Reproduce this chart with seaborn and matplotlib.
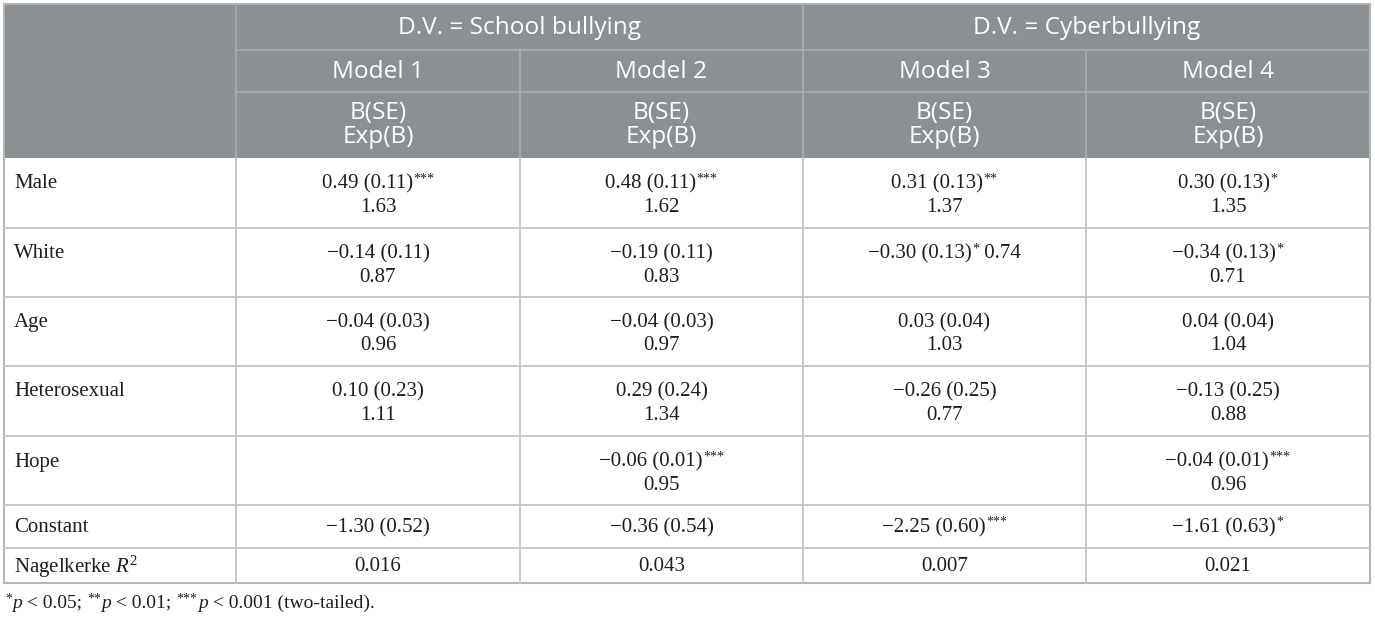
import matplotlib
matplotlib.use("Agg")
import matplotlib.pyplot as plt
import seaborn as sns
from matplotlib.patches import Rectangle

# data
row_labels = ["Male", "White", "Age", "Heterosexual", "Hope", "Constant"]
groups = ["D.V. = School bullying", "D.V. = Cyberbullying"]
models = ["Model 1", "Model 2", "Model 3", "Model 4"]

b_m1 = [0.49, -0.14, -0.04, 0.10, None, -1.30]
se_m1 = [0.11, 0.11, 0.03, 0.23, None, 0.52]
st_m1 = ["***", "", "", "", "", ""]
exp_m1 = [1.63, 0.87, 0.96, 1.11, None, None]

b_m2 = [0.48, -0.19, -0.04, 0.29, -0.06, -0.36]
se_m2 = [0.11, 0.11, 0.03, 0.24, 0.01, 0.54]
st_m2 = ["***", "", "", "", "***", ""]
exp_m2 = [1.62, 0.83, 0.97, 1.34, 0.95, None]

b_m3 = [0.31, -0.30, 0.03, -0.26, None, -2.25]
se_m3 = [0.13, 0.13, 0.04, 0.25, None, 0.60]
st_m3 = ["**", "*", "", "", "", "***"]
exp_m3 = [1.37, 0.74, 1.03, 0.77, None, None]

b_m4 = [0.30, -0.34, 0.04, -0.13, -0.04, -1.61]
se_m4 = [0.13, 0.13, 0.04, 0.25, 0.01, 0.63]
st_m4 = ["*", "*", "", "", "***", "*"]
exp_m4 = [1.35, 0.71, 1.04, 0.88, 0.96, None]

r2 = [0.016, 0.043, 0.007, 0.021]

# in the source table, Model 3 / White has Exp(B) on the same line
inline_cells = [(1, 2)]

B = [b_m1, b_m2, b_m3, b_m4]
SE = [se_m1, se_m2, se_m3, se_m4]
ST = [st_m1, st_m2, st_m3, st_m4]
EXP = [exp_m1, exp_m2, exp_m3, exp_m4]

sns.set_theme(style="white")
plt.rcParams["mathtext.fontset"] = "custom"
plt.rcParams["mathtext.rm"] = "Liberation Serif"
plt.rcParams["mathtext.it"] = "Liberation Serif:italic"

HEAD_BG = "#8b9093"
HEAD_LINE = "#a8acae"
GRID = "#c4c4c4"
TXT = "#1e1e1e"
SERIF = "Liberation Serif"
SANS = "Open Sans"
FS = 15
HFS = 17.6


def num(v):
    return f"{v:.2f}".replace("-", "\u2212")


fig = plt.figure(figsize=(13.75, 6.17), dpi=100)
ax = fig.add_axes([0, 0, 1, 1])
ax.set_xlim(0, 1375)
ax.set_ylim(617, 0)
ax.axis("off")
renderer = fig.canvas.get_renderer()


def text_width(s, size, **kw):
    probe = ax.text(0, 0, s, fontsize=size, family=SERIF, **kw)
    w = probe.get_window_extent(renderer=renderer).width
    probe.remove()
    return w


def centered_with_stars(xc, y, s, stars, tail=""):
    # measure the pieces so the whole string stays centred in its cell
    w = text_width(s, FS)
    sw = text_width(stars, 10) + 0.5 if stars else 0
    tw = text_width(tail, FS) if tail else 0
    x0 = xc - (w + sw + tw) / 2
    ax.text(x0, y, s, ha="left", va="center", color=TXT, fontsize=FS, family=SERIF)
    xe = x0 + w
    if stars:
        ax.text(xe + 0.5, y - 5, stars, ha="left", va="center", color=TXT,
                fontsize=10, family=SERIF)
        xe += sw
    if tail:
        ax.text(xe, y, tail, ha="left", va="center", color=TXT, fontsize=FS, family=SERIF)


cols = [4, 236, 520, 803, 1086, 1370]
head = [4, 50, 92, 158]
rows = [158, 228, 297, 366, 436, 505, 548, 583]

# header block
ax.add_patch(Rectangle((cols[0], head[0]), cols[-1] - cols[0], head[-1] - head[0],
                       facecolor=HEAD_BG, edgecolor="none"))
ax.plot([cols[1], cols[-1]], [head[1], head[1]], color=HEAD_LINE, lw=1.2)
ax.plot([cols[1], cols[-1]], [head[2], head[2]], color=HEAD_LINE, lw=1.2)
ax.plot([cols[1], cols[1]], [head[0], head[3]], color=HEAD_LINE, lw=1.2)
ax.plot([cols[3], cols[3]], [head[0], head[3]], color=HEAD_LINE, lw=1.2)
for c in (cols[2], cols[4]):
    ax.plot([c, c], [head[1], head[3]], color=HEAD_LINE, lw=1.2)

for g, (x0, x1) in enumerate([(cols[1], cols[3]), (cols[3], cols[5])]):
    ax.text((x0 + x1) / 2, (head[0] + head[1]) / 2 + 1, groups[g], ha="center", va="center",
            color="white", fontsize=HFS, family=SANS)
for m in range(4):
    xc = (cols[m + 1] + cols[m + 2]) / 2
    ax.text(xc, (head[1] + head[2]) / 2 + 1, models[m], ha="center", va="center",
            color="white", fontsize=HFS, family=SANS)
    ax.text(xc, 113, "B(SE)", ha="center", va="center", color="white", fontsize=HFS, family=SANS)
    ax.text(xc, 137, "Exp(B)", ha="center", va="center", color="white", fontsize=HFS, family=SANS)

# body grid
for y in rows[1:-1]:
    ax.plot([cols[0], cols[-1]], [y, y], color=GRID, lw=1.3)
for x in cols[1:-1]:
    ax.plot([x, x], [rows[0], rows[-1]], color=GRID, lw=1.3)
ax.add_patch(Rectangle((cols[0], head[0]), cols[-1] - cols[0], rows[-1] - head[0],
                       facecolor="none", edgecolor="#b5b5b5", lw=1.5))

# body text
for r, lab in enumerate(row_labels):
    top, bot = rows[r], rows[r + 1]
    two_line = lab != "Constant"
    y1 = top + 26 if two_line else (top + bot) / 2 + 1
    ax.text(14, y1, lab, ha="left", va="center", color=TXT, fontsize=FS, family=SERIF)
    for m in range(4):
        if B[m][r] is None:
            continue
        xc = (cols[m + 1] + cols[m + 2]) / 2
        s = f"{num(B[m][r])} ({num(SE[m][r])})"
        if EXP[m][r] is not None and (r, m) in inline_cells:
            centered_with_stars(xc, y1, s, ST[m][r], tail=" " + num(EXP[m][r]))
            continue
        centered_with_stars(xc, y1, s, ST[m][r])
        if EXP[m][r] is not None:
            ax.text(xc, top + 49, num(EXP[m][r]), ha="center", va="center",
                    color=TXT, fontsize=FS, family=SERIF)

yr = (rows[-2] + rows[-1]) / 2 + 1
ax.text(14, yr, r"Nagelkerke $R^{2}$", ha="left", va="center", color=TXT, fontsize=FS, family=SERIF)
for m in range(4):
    xc = (cols[m + 1] + cols[m + 2]) / 2
    ax.text(xc, yr, f"{r2[m]:.3f}", ha="center", va="center", color=TXT, fontsize=FS, family=SERIF)

# footnote, pieces laid out left to right
foot = [("*", "p", " < 0.05; "), ("**", "p", " < 0.01; "), ("***", "p", " < 0.001 (two-tailed).")]
x = 5
yf = 603
for st, it, rest in foot:
    t = ax.text(x, yf - 4, st, ha="left", va="center", color=TXT, fontsize=10, family=SERIF)
    x = t.get_window_extent(renderer=renderer).x1 + 0.5
    t = ax.text(x, yf, it, ha="left", va="center", color=TXT, fontsize=14, family=SERIF,
                style="italic")
    x = t.get_window_extent(renderer=renderer).x1
    t = ax.text(x, yf, rest, ha="left", va="center", color=TXT, fontsize=14, family=SERIF)
    x = t.get_window_extent(renderer=renderer).x1

fig.savefig("out.png", dpi=100)
